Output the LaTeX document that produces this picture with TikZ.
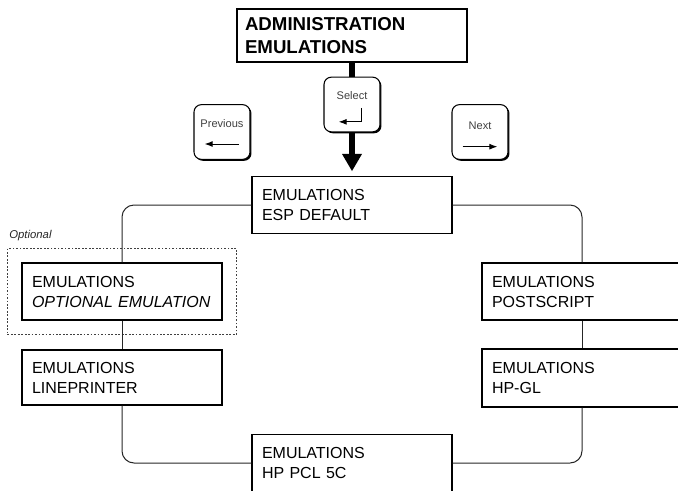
\documentclass[tikz,border=0pt]{standalone}
\usepackage{fontspec}
\setmainfont{Liberation Sans}
\usetikzlibrary{arrows.meta,shadows,fit,positioning}

\tikzset{
  menubox/.style={draw, line width=0.8pt, fill=white, inner sep=0pt,
    minimum width=150pt, minimum height=42.75pt, text width=135pt, align=left,
    font=\fontsize{12}{15}\selectfont},
  titlebox/.style={menubox, minimum width=172.5pt, minimum height=39.75pt,
    text width=160.5pt, font=\fontsize{14}{17}\selectfont\bfseries},
  keybox/.style={draw, line width=0.8pt, fill=white, rounded corners=5.5pt,
    minimum width=42pt, minimum height=41pt,
    drop shadow={shadow xshift=1.1pt, shadow yshift=-1.1pt, fill=black, opacity=1}},
  keylabel/.style={inner sep=0pt, text=black!75, font=\fontsize{8.3}{10}\selectfont},
  keyarrow/.style={line width=0.75pt, -{Latex[length=6pt,width=4.5pt]}},
  thickline/.style={line width=4.5pt},
  loopline/.style={line width=0.75pt, black!85, rounded corners=9pt},
}

\begin{document}
\begin{tikzpicture}[x=0.75pt, y=-0.75pt]
    \useasboundingbox (0,0) rectangle (678,490);

    % menu title and keys
    \node[titlebox] (admin) at (352,35.5) {ADMINISTRATION\\EMULATIONS};
    \node[keybox] (sel) at (352,104.5) {};
    \node[keylabel] (seltxt) at ([yshift=6.4pt]sel.center) {Select};
    \draw[keyarrow] ([shift={(6.75pt,-2.6pt)}]sel.center) |- ([shift={(-10pt,-13pt)}]sel.center);

    \node[keybox] (prev) at (222,132) {};
    \node[keylabel] (prevtxt) at ([yshift=6.5pt]prev.center) {Previous};
    \draw[keyarrow] ([shift={(12.5pt,-9pt)}]prev.center) -- ([shift={(-13pt,-9pt)}]prev.center);

    \node[keybox] (next) at (480,132) {};
    \node[keylabel] (nexttxt) at ([yshift=4.5pt]next.center) {Next};
    \draw[keyarrow] ([shift={(-13pt,-11pt)}]next.center) -- ([shift={(13pt,-11pt)}]next.center);

    % emulation menu items
    \node[menubox] (esp) at (352,205) {EMULATIONS\\ESP DEFAULT};
    \node[menubox] (opt) at (122,291.5) {EMULATIONS\\\textit{OPTIONAL EMULATION}};
    \node[menubox, minimum height=41.25pt] (lp) at (122,377.5) {EMULATIONS\\LINEPRINTER};
    \node[menubox] (pcl) at (352,463) {EMULATIONS\\HP PCL 5C};
    \node[menubox] (ps) at (582,291.5) {EMULATIONS\\POSTSCRIPT};
    \node[menubox, minimum height=43.5pt] (hpgl) at (582,378) {EMULATIONS\\HP-GL};

    % optional frame
    \node[draw, black!75, line width=0.6pt, dash pattern=on 1.3pt off 1.3pt,
          inner sep=10.5pt, fit=(opt)] (optframe) {};
    \node[keylabel, anchor=south west, text=black!85, font=\fontsize{8.5}{10}\selectfont\itshape]
          (opttxt) at ([shift={(1.5pt,5.5pt)}]optframe.north west) {Optional};

    % thick select path
    \draw[thickline] (admin.south) -- (sel.north);
    \draw[thickline, -{Triangle[length=13pt,width=14pt]}, shorten >=3.5pt]
        (sel.south) -- (esp.north);

    % loop between items
    \draw[loopline] (esp.west) -| (opt.north);
    \draw[loopline] (opt.south) -- (lp.north);
    \draw[loopline] (lp.south) |- (pcl.west);
    \draw[loopline] (pcl.east) -| (hpgl.south);
    \draw[loopline] (hpgl.north) -- (ps.south);
    \draw[loopline] (ps.north) |- (esp.east);
\end{tikzpicture}
\end{document}
